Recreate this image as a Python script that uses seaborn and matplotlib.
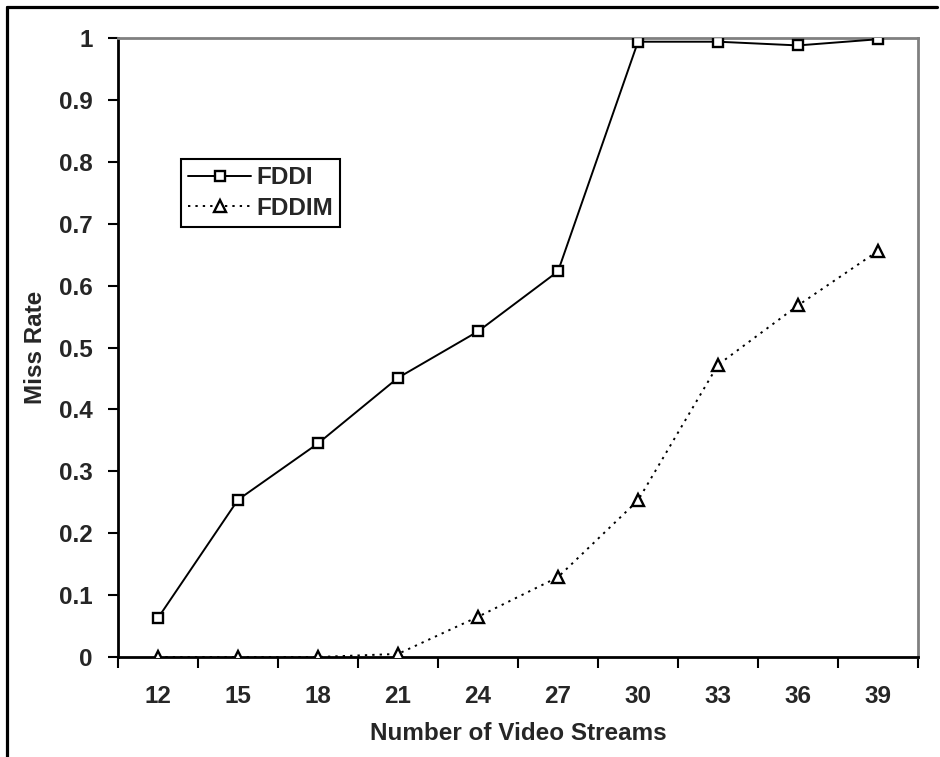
import matplotlib
matplotlib.use("Agg")
import matplotlib.pyplot as plt
from matplotlib.lines import Line2D
import seaborn as sns
import pandas as pd

categories = ["12", "15", "18", "21", "24", "27", "30", "33", "36", "39"]
fddi = [0.063, 0.254, 0.345, 0.451, 0.526, 0.623, 0.994, 0.994, 0.988, 0.998]
fddim = [0.0, 0.0, 0.0, 0.005, 0.065, 0.129, 0.253, 0.472, 0.568, 0.656]
series_names = ["FDDI", "FDDIM"]
y_ticks = [0, 0.1, 0.2, 0.3, 0.4, 0.5, 0.6, 0.7, 0.8, 0.9, 1]
y_tick_labels = ["0", "0.1", "0.2", "0.3", "0.4", "0.5", "0.6", "0.7", "0.8", "0.9", "1"]

sns.set_theme(style="white")
plt.rcParams["font.family"] = ["Liberation Sans", "DejaVu Sans"]
plt.rcParams["font.weight"] = "bold"

FS = 17.5

df = pd.DataFrame({
    "Streams": categories * 2,
    "Miss Rate": fddi + fddim,
    "Series": [series_names[0]] * len(categories) + [series_names[1]] * len(categories),
})

fig = plt.figure(figsize=(9.4, 7.57), dpi=100)
ax = fig.add_axes([118 / 940, 1 - 657 / 757, 800 / 940, 619 / 757])

sns.pointplot(
    data=df, x="Streams", y="Miss Rate", hue="Series", order=categories,
    hue_order=series_names, palette=["black", "black"], markers=["s", "^"],
    linestyles=["-", ":"], ax=ax, legend=False, errorbar=None,
)

DOT = (0, (1.2, 2.6))
for ln in ax.lines:
    ln.set_markerfacecolor("white")
    ln.set_markeredgecolor("black")
    ln.set_markeredgewidth(1.7)
    ln.set_linewidth(1.4)
    ln.set_zorder(3)
ax.lines[0].set_markersize(7)
ax.lines[1].set_markersize(8.5)
ax.lines[1].set_linestyle(DOT)

ax.set_xlim(-0.5, len(categories) - 0.5)
ax.set_ylim(0, 1)
ax.set_yticks(y_ticks)
ax.set_yticklabels(y_tick_labels)
ax.set_xticks(range(len(categories)))
ax.set_xticklabels(categories)
ax.set_xticks([i - 0.5 for i in range(len(categories) + 1)], minor=True)

ax.tick_params(axis="y", which="major", direction="out", length=7, width=1.5,
               color="black", labelsize=FS, pad=11, left=True)
ax.tick_params(axis="x", which="major", length=0, labelsize=FS, pad=20)
ax.tick_params(axis="x", which="minor", direction="out", length=8, width=1.5,
               color="black", bottom=True)
for lab in ax.get_xticklabels() + ax.get_yticklabels():
    lab.set_fontweight("bold")

for side in ["left", "bottom"]:
    ax.spines[side].set_color("black")
    ax.spines[side].set_linewidth(2)
for side in ["top", "right"]:
    ax.spines[side].set_color("#808080")
    ax.spines[side].set_linewidth(2)
ax.grid(False)

ax.set_xlabel("Number of Video Streams", fontsize=FS, fontweight="bold", labelpad=10)
ax.set_ylabel("Miss Rate", fontsize=FS, fontweight="bold", labelpad=9)

handles = [
    Line2D([], [], color="black", lw=1.4, ls="-", marker="s", ms=7,
           mfc="white", mec="black", mew=1.7),
    Line2D([], [], color="black", lw=1.4, ls=DOT, marker="^", ms=8.5,
           mfc="white", mec="black", mew=1.7),
]
leg = ax.legend(handles, series_names, loc="upper left",
                bbox_to_anchor=((181 - 118) / 800, (657 - 159) / 619),
                frameon=True, fancybox=False, framealpha=1, edgecolor="black",
                prop={"size": FS, "weight": "bold"}, handlelength=2.6,
                handletextpad=0.2, borderpad=0.3, labelspacing=0.3,
                borderaxespad=0)
leg.get_frame().set_linewidth(1.5)

fig.add_artist(Line2D([7 / 940, 7 / 940], [0, 1 - 7 / 757], color="black", lw=2.3,
                      transform=fig.transFigure))
fig.add_artist(Line2D([7 / 940, 937 / 940], [1 - 7 / 757, 1 - 7 / 757], color="black",
                      lw=2.3, transform=fig.transFigure))

fig.savefig("out.png", dpi=100)
